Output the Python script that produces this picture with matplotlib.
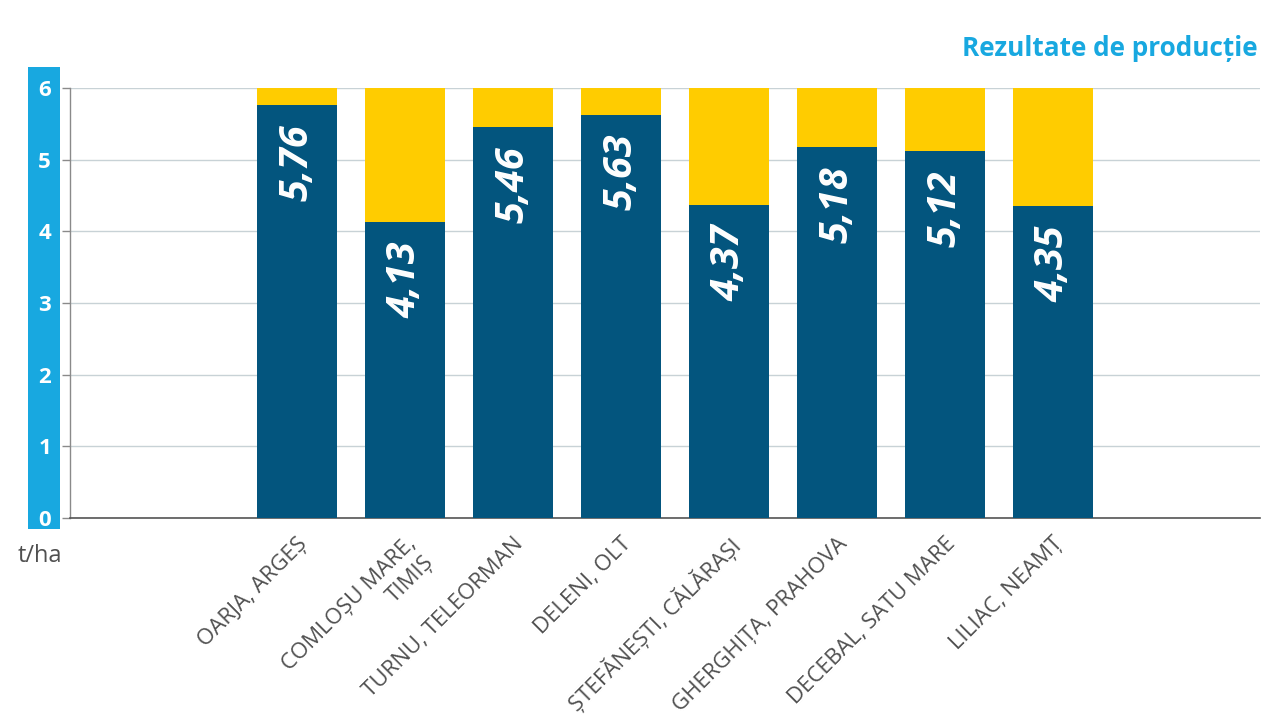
import matplotlib
matplotlib.use("Agg")
import matplotlib.pyplot as plt
from matplotlib.patches import Rectangle

categories = ["OARJA, ARGEȘ", "COMLOȘU MARE,\nTIMIȘ", "TURNU, TELEORMAN", "DELENI, OLT",
              "ȘTEFĂNEȘTI, CĂLĂRAȘI", "GHERGHIȚA, PRAHOVA", "DECEBAL, SATU MARE", "LILIAC, NEAMȚ"]
values = [5.76, 4.13, 5.46, 5.63, 4.37, 5.18, 5.12, 4.35]
scale_max = 6
value_labels = ["5,76", "4,13", "5,46", "5,63", "4,37", "5,18", "5,12", "4,35"]
yticks = [0, 1, 2, 3, 4, 5, 6]

DARK = "#03557e"
YELLOW = "#ffcc00"
CYAN = "#18a8e0"

plt.rcParams['font.family'] = ['Open Sans', 'DejaVu Sans']

fig = plt.figure(figsize=(12.8, 7.2), dpi=100)
ax = fig.add_axes([70/1280, 1-518/720, 1190/1280, 430/720])

x = list(range(len(categories)))
rest = [scale_max - v for v in values]
ax.bar(x, values, width=0.74, color=DARK, zorder=3)
ax.bar(x, rest, bottom=values, width=0.74, color=YELLOW, zorder=3)

for xi, v, lab in zip(x, values, value_labels):
    ax.text(xi, v - 0.27, lab, rotation=90, ha='center', va='top', color='white',
            fontsize=28.5, fontweight='bold', style='italic', zorder=4)

ax.set_xlim(-2.10, 8.92)
ax.set_ylim(0, 6)
ax.set_yticks(yticks)
ax.set_yticklabels([str(t) for t in yticks])
ax.grid(axis='y', color='#c8d2d6', linewidth=1.0, zorder=0)
ax.set_axisbelow(True)

for s in ['top', 'right']:
    ax.spines[s].set_visible(False)
ax.spines['left'].set_color('#8a8a8a')
ax.spines['left'].set_linewidth(1.0)
ax.spines['bottom'].set_color('#555555')
ax.spines['bottom'].set_linewidth(1.2)

ax.tick_params(axis='y', length=5.8, width=1.0, color='#8a8a8a', pad=12.5,
               labelcolor='white', labelsize=16)
for t in ax.get_yticklabels():
    t.set_ha('center')
    t.set_fontweight('bold')

ax.set_xticks(x)
ax.set_xticklabels(categories, rotation=45, ha='right', rotation_mode='anchor',
                   fontsize=16, color='#505050', linespacing=1.35)
ax.tick_params(axis='x', length=0, pad=11)

fig.patches.append(Rectangle((28/1280, 1-529/720), 32/1280, 462/720,
                             transform=fig.transFigure, facecolor=CYAN,
                             edgecolor='none', zorder=-1))

fig.text(18/1280, 1-556/720, "t/ha", fontsize=17, color='#505050', va='center', ha='left')
fig.text(1258/1280, 1-48/720, "Rezultate de producție", fontsize=18.8, color=CYAN,
         fontweight='bold', va='center', ha='right')

fig.savefig("out.png", dpi=100)
